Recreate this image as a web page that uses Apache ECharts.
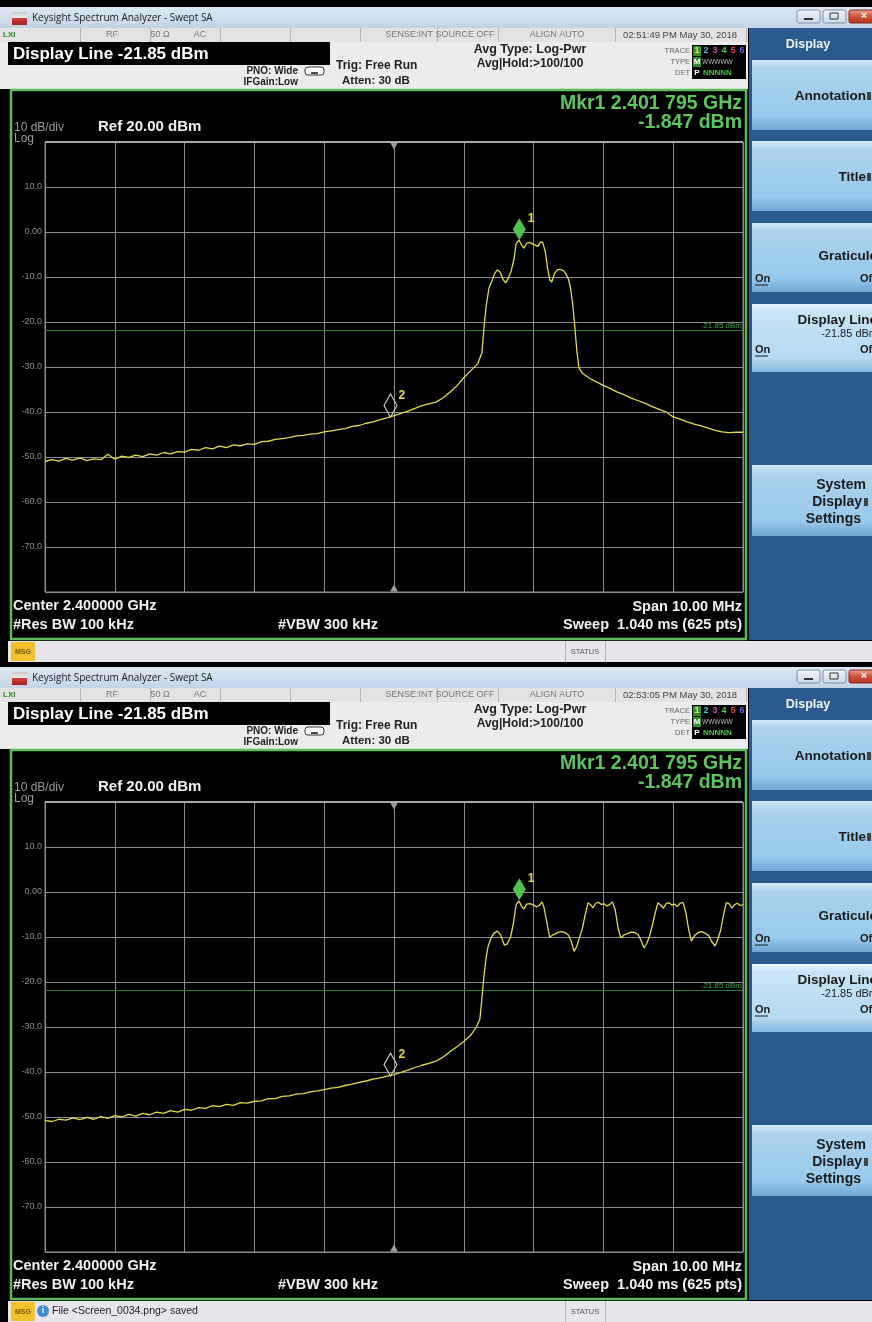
<!DOCTYPE html>
<html><head><meta charset="utf-8">
<script src="https://cdn.jsdelivr.net/npm/echarts@6/dist/echarts.min.js"></script>
<style>html,body{margin:0;padding:0;background:#000;}#c{width:872px;height:1322px;}</style>
</head><body><div id="c"></div>
<script>
// ---------------- DATA ----------------
// frequency offset from center 2.400000 GHz, in MHz (span 10 MHz)
const freqMin = -5, freqMax = 5, freqStep = 1;
// level axis (dBm): ref 20 dBm, 10 dB/div
const levelMin = -80, levelMax = 20, levelStep = 10;
const yTickLabels = {'10':'10.0','0':'0.00','-10':'-10.0','-20':'-20.0','-30':'-30.0','-40':'-40.0','-50':'-50.0','-60':'-60.0','-70':'-70.0'};
const displayLineLevel = -21.85;
const displayLineLabel = '-21.85 dBm';

const trace1Freq = [-5.0,-4.9,-4.8,-4.7,-4.6,-4.5,-4.4,-4.3,-4.2,-4.1,-4.0,-3.9,-3.8,-3.7,-3.6,-3.5,-3.4,-3.3,-3.2,-3.1,-3.0,-2.9,-2.8,-2.7,-2.6,-2.5,-2.4,-2.3,-2.2,-2.1,-2.0,-1.9,-1.8,-1.7,-1.6,-1.5,-1.4,-1.3,-1.2,-1.1,-1.0,-0.9,-0.8,-0.7,-0.6,-0.5,-0.4,-0.3,-0.2,-0.1,0.0,0.1,0.2,0.3,0.4,0.5,0.6,0.7,0.8,0.9,1.0,1.1,1.2,1.26,1.29,1.32,1.36,1.40,1.44,1.48,1.52,1.56,1.60,1.64,1.68,1.72,1.75,1.79,1.83,1.86,1.90,1.94,1.98,2.02,2.06,2.10,2.13,2.17,2.20,2.23,2.26,2.30,2.34,2.38,2.42,2.46,2.50,2.53,2.56,2.59,2.62,2.65,2.70,2.8,2.9,3.0,3.1,3.2,3.3,3.4,3.5,3.6,3.7,3.8,3.9,4.0,4.1,4.2,4.3,4.4,4.5,4.6,4.7,4.8,4.9,5.0];
const trace1Level = [-51.0,-50.6,-50.9,-50.3,-50.7,-50.2,-50.8,-50.4,-50.6,-49.4,-50.5,-49.8,-50.1,-49.6,-49.9,-49.3,-49.6,-49.0,-49.3,-48.8,-48.9,-48.3,-48.5,-47.9,-48.2,-47.6,-47.9,-47.3,-47.5,-47.1,-47.2,-46.6,-46.5,-46.1,-45.9,-45.7,-45.3,-45.2,-44.9,-44.8,-44.4,-44.2,-43.9,-43.7,-43.2,-43.0,-42.5,-42.2,-41.7,-41.3,-40.8,-40.3,-39.8,-39.2,-38.6,-38.2,-37.8,-36.9,-35.6,-34.2,-32.4,-30.8,-29.3,-26.8,-21.0,-16.5,-12.5,-11.0,-9.3,-8.4,-8.9,-10.5,-11.3,-10.2,-8.6,-6.0,-2.6,-1.8,-2.9,-3.6,-2.5,-2.3,-2.6,-2.9,-3.2,-2.2,-2.3,-4.5,-8.0,-10.6,-11.1,-9.2,-8.4,-8.3,-8.5,-9.2,-10.5,-12.5,-16.0,-21.0,-26.5,-30.2,-31.4,-32.5,-33.3,-34.1,-34.8,-35.6,-36.2,-36.9,-37.5,-38.1,-38.8,-39.4,-40.0,-41.1,-41.6,-42.2,-42.7,-43.1,-43.6,-44.1,-44.4,-44.6,-44.5,-44.5];

const trace2Freq = [-5.0,-4.9,-4.8,-4.7,-4.6,-4.5,-4.4,-4.3,-4.2,-4.1,-4.0,-3.9,-3.8,-3.7,-3.6,-3.5,-3.4,-3.3,-3.2,-3.1,-3.0,-2.9,-2.8,-2.7,-2.6,-2.5,-2.4,-2.3,-2.2,-2.1,-2.0,-1.9,-1.8,-1.7,-1.6,-1.5,-1.4,-1.3,-1.2,-1.1,-1.0,-0.9,-0.8,-0.7,-0.6,-0.5,-0.4,-0.3,-0.2,-0.1,0.0,0.1,0.2,0.3,0.4,0.5,0.6,0.7,0.8,0.9,1.0,1.1,1.18,1.23,1.26,1.29,1.32,1.35,1.39,1.43,1.48,1.53,1.58,1.62,1.67,1.71,1.75,1.79,1.83,1.86,1.90,1.95,2.0,2.04,2.08,2.12,2.15,2.19,2.23,2.27,2.31,2.36,2.41,2.46,2.50,2.54,2.58,2.62,2.66,2.70,2.74,2.78,2.82,2.85,2.89,2.93,2.97,3.01,3.05,3.09,3.13,3.17,3.21,3.25,3.30,3.35,3.40,3.45,3.50,3.54,3.58,3.62,3.66,3.70,3.74,3.78,3.82,3.86,3.90,3.94,3.98,4.02,4.06,4.10,4.14,4.18,4.22,4.26,4.31,4.36,4.41,4.46,4.51,4.55,4.60,4.64,4.68,4.72,4.76,4.80,4.84,4.88,4.92,4.96,5.0];
const trace2Level = [-50.8,-51.0,-50.5,-50.7,-50.2,-50.6,-50.1,-50.5,-49.9,-50.3,-49.7,-50.0,-49.4,-49.8,-49.2,-49.5,-48.9,-49.2,-48.6,-48.9,-48.3,-48.5,-47.9,-48.1,-47.5,-47.7,-47.2,-47.4,-46.8,-46.9,-46.5,-46.4,-45.9,-45.9,-45.4,-45.3,-44.9,-44.8,-44.4,-44.2,-43.9,-43.6,-43.4,-43.0,-42.7,-42.3,-42.0,-41.6,-41.3,-40.9,-40.6,-40.1,-39.6,-39.0,-38.5,-38.1,-37.6,-36.7,-35.5,-34.4,-33.2,-31.8,-30.0,-28.3,-23.5,-18.5,-14.5,-12.0,-10.2,-9.2,-8.7,-9.6,-11.8,-11.6,-10.0,-7.0,-2.8,-2.0,-3.2,-3.8,-2.7,-2.6,-2.9,-3.3,-3.0,-2.2,-3.5,-6.8,-10.0,-9.6,-9.3,-8.9,-8.8,-9.1,-9.6,-11.0,-13.2,-12.0,-10.0,-8.0,-5.0,-2.4,-2.9,-3.5,-2.5,-2.3,-2.8,-2.6,-3.1,-2.8,-2.2,-4.0,-8.0,-10.2,-9.5,-9.2,-8.9,-9.0,-9.5,-10.8,-12.4,-11.5,-9.8,-7.5,-4.8,-2.4,-2.9,-3.6,-2.6,-2.4,-2.9,-2.7,-3.2,-2.5,-2.3,-4.5,-8.2,-10.9,-9.6,-9.0,-8.8,-9.2,-9.7,-11.0,-12.0,-10.5,-8.5,-5.2,-2.4,-2.6,-3.6,-2.8,-2.5,-3.0,-2.8];

// markers: [freq MHz, level dBm]
const marker1 = [[1.795, -1.847], [1.795, -1.847]];
const marker2 = [[-0.05, -41.0], [-0.05, -40.8]];
const markerReadout = ['Mkr1 2.401 795 GHz', '-1.847 dBm'];
const timestamps = ['02:51:49 PM May 30, 2018', '02:53:05 PM May 30, 2018'];
const messages = ['', 'File <Screen_0034.png> saved'];

// ---------------- DRAWING ----------------
const FONT = '"Liberation Sans", Arial, sans-serif';
function T(x, y, text, size, opt) {
  opt = opt || {};
  const align = opt.align || 'left';
  return { type: 'text', x: x, y: y, z: opt.z || 20, silent: true,
    style: { text: text, font: (opt.weight || 'normal') + ' ' + size + 'px ' + (opt.family || FONT),
      fill: opt.fill || '#000', textAlign: align, align: align,
      textVerticalAlign: 'middle', verticalAlign: 'middle' } };
}
function R(x, y, w, h, fill, opt) {
  opt = opt || {};
  return { type: 'rect', z: opt.z || 1, silent: true, shape: { x: x, y: y, width: w, height: h, r: opt.r || 0 },
    style: { fill: fill, stroke: opt.stroke || null, lineWidth: opt.lw || 0 } };
}
function L(x1, y1, x2, y2, stroke, lw, z) {
  return { type: 'line', z: z || 2, silent: true, shape: { x1: x1, y1: y1, x2: x2, y2: y2 }, style: { stroke: stroke, lineWidth: lw || 1 } };
}
function grad(stops) {
  return new echarts.graphic.LinearGradient(0, 0, 0, 1, stops.map(function (s) { return { offset: s[0], color: s[1] }; }));
}

function chrome(oy, s) {
  const g = [];
  // title bar
  g.push(R(0, oy + 7, 872, 21, grad([[0, '#dde8f5'], [1, '#c3d3e7']])));
  g.push(R(12, oy + 12, 15, 13, grad([[0, '#c8c8c8'], [0.45, '#efefef'], [0.5, '#d33c3c'], [1, '#a82020']]), { z: 2 }));
  g.push(T(32, oy + 18, 'Keysight Spectrum Analyzer - Swept SA', 10, { family: '"Open Sans", sans-serif', fill: '#1c1c1c' }));
  g.push(R(797, oy + 10, 23, 13, grad([[0, '#f2f6fb'], [1, '#c9d6e6']]), { stroke: '#7f90a6', lw: 1, r: 2, z: 2 }));
  g.push(L(804, oy + 19, 813, oy + 19, '#333', 2, 3));
  g.push(R(823, oy + 10, 23, 13, grad([[0, '#f2f6fb'], [1, '#c9d6e6']]), { stroke: '#7f90a6', lw: 1, r: 2, z: 2 }));
  g.push(R(830, oy + 13, 8, 6, 'transparent', { stroke: '#333', lw: 1, z: 3 }));
  g.push(R(849, oy + 10, 30, 13, grad([[0, '#eba592'], [0.5, '#d2503a'], [1, '#b5311d']]), { stroke: '#7a2a20', lw: 1, r: 2, z: 2 }));
  g.push(T(864, oy + 16, '×', 11, { weight: 'bold', fill: '#fff', align: 'center' }));

  // status row
  g.push(R(0, oy + 28, 748, 14, '#e3e3e3'));
  [80, 150, 220, 290, 360, 437, 498, 615, 746].forEach(function (x) { g.push(L(x + 0.5, oy + 28, x + 0.5, oy + 42, '#b4b4b4', 1, 2)); });
  g.push(T(3, oy + 35, 'LXI', 8, { weight: 'bold', fill: '#2c8a2c' }));
  g.push(T(112, oy + 35, 'RF', 9, { fill: '#777', align: 'center' }));
  g.push(T(160, oy + 35, '50 Ω', 9, { fill: '#777', align: 'center' }));
  g.push(T(200, oy + 35, 'AC', 9, { fill: '#777', align: 'center' }));
  g.push(T(433, oy + 35, 'SENSE:INT', 9, { fill: '#777', align: 'right' }));
  g.push(T(465, oy + 35, 'SOURCE OFF', 9, { fill: '#777', align: 'center' }));
  g.push(T(557, oy + 35, 'ALIGN AUTO', 9, { fill: '#777', align: 'center' }));
  g.push(T(680, oy + 35, timestamps[s], 9.5, { fill: '#444', align: 'center' }));

  // annotation area
  g.push(R(0, oy + 42, 748, 47, '#ececec'));
  g.push(R(8, oy + 42, 322, 23, '#000', { z: 2 }));
  g.push(T(13, oy + 54, 'Display Line -21.85 dBm', 17, { weight: 'bold', fill: '#fff' }));
  g.push(T(298, oy + 71, 'PNO: Wide', 10, { weight: 'bold', fill: '#222', align: 'right' }));
  g.push(T(298, oy + 82, 'IFGain:Low', 10, { weight: 'bold', fill: '#222', align: 'right' }));
  g.push(R(305, oy + 67, 19, 8, '#fff', { stroke: '#333', lw: 1, r: 3, z: 2 }));
  g.push(L(311, oy + 73, 318, oy + 73, '#111', 1.5, 3));
  g.push(T(336, oy + 66, 'Trig: Free Run', 12, { weight: 'bold', fill: '#222' }));
  g.push(T(342, oy + 81, 'Atten: 30 dB', 11.5, { weight: 'bold', fill: '#222' }));
  g.push(T(530, oy + 50, 'Avg Type: Log-Pwr', 12.5, { weight: 'bold', fill: '#222', align: 'center' }));
  g.push(T(530, oy + 64, 'Avg|Hold:>100/100', 12, { weight: 'bold', fill: '#222', align: 'center' }));
  g.push(T(690, oy + 51, 'TRACE', 7.5, { fill: '#666', align: 'right' }));
  g.push(T(690, oy + 62, 'TYPE', 7.5, { fill: '#666', align: 'right' }));
  g.push(T(690, oy + 73, 'DET', 7.5, { fill: '#666', align: 'right' }));
  g.push(R(692, oy + 45, 54, 34, '#000', { z: 2 }));
  g.push(R(693, oy + 46, 8, 10, '#2f8f2f', { z: 3 }));
  g.push(R(693, oy + 57, 8, 10, '#2f8f2f', { z: 3 }));
  const tcol = ['#f0e040', '#35c3d6', '#d84ea6', '#5cc95c', '#e2463f', '#6a5ae0'];
  tcol.forEach(function (c, i) { g.push(T(697 + i * 9, oy + 51, String(i + 1), 9, { weight: 'bold', fill: c, align: 'center' })); });
  g.push(T(697, oy + 62, 'M', 8, { weight: 'bold', fill: '#fff', align: 'center' }));
  g.push(T(702, oy + 62, 'WWWWW', 6.5, { fill: '#bbb' }));
  g.push(T(697, oy + 73, 'P', 8, { weight: 'bold', fill: '#fff', align: 'center' }));
  g.push(T(703, oy + 73, 'NNNNN', 8, { weight: 'bold', fill: '#46c646' }));

  // green frame
  g.push(R(11, oy + 90, 735, 549, '#000', { stroke: '#5dbb5d', lw: 2.5 }));
  g.push(R(45, oy + 141, 698, 2, '#a8a8a8', { z: 8 }));
  g.push(T(14, oy + 128, '10 dB/div', 12, { fill: '#9b9b9b' }));
  g.push(T(14, oy + 139, 'Log', 12, { fill: '#9b9b9b' }));
  g.push(T(98, oy + 127, 'Ref 20.00 dBm', 15, { weight: 'bold', fill: '#f0f0f0' }));
  g.push(T(742, oy + 104, markerReadout[0], 19.5, { weight: 'bold', fill: '#5ec45e', align: 'right' }));
  g.push(T(742, oy + 123, markerReadout[1], 19.5, { weight: 'bold', fill: '#5ec45e', align: 'right' }));
  g.push(T(13, oy + 606, 'Center 2.400000 GHz', 14.5, { weight: 'bold', fill: '#f2f2f2' }));
  g.push(T(13, oy + 625, '#Res BW 100 kHz', 14.5, { weight: 'bold', fill: '#f2f2f2' }));
  g.push(T(278, oy + 625, '#VBW 300 kHz', 14.5, { weight: 'bold', fill: '#f2f2f2' }));
  g.push(T(742, oy + 607, 'Span 10.00 MHz', 14.5, { weight: 'bold', fill: '#f2f2f2', align: 'right' }));
  g.push(T(742, oy + 625, 'Sweep  1.040 ms (625 pts)', 14.5, { weight: 'bold', fill: '#f2f2f2', align: 'right' }));

  // message row
  g.push(R(8, oy + 641, 864, 21, '#e8e5ec'));
  g.push(R(11, oy + 642, 24, 19, '#f2c12e', { z: 2 }));
  g.push(T(23, oy + 652, 'MSG', 7, { weight: 'bold', fill: '#7a5a00', align: 'center' }));
  g.push(L(565.5, oy + 641, 565.5, oy + 662, '#b0b0b0', 1, 2));
  g.push(L(605.5, oy + 641, 605.5, oy + 662, '#b0b0b0', 1, 2));
  g.push(T(585, oy + 652, 'STATUS', 7.5, { fill: '#555', align: 'center' }));
  if (messages[s]) {
    g.push({ type: 'circle', z: 3, silent: true, shape: { cx: 43, cy: oy + 651, r: 6 }, style: { fill: '#3d8ad6' } });
    g.push(T(43, oy + 651, 'i', 9, { weight: 'bold', fill: '#fff', align: 'center' }));
    g.push(T(52, oy + 651, messages[s], 10.5, { fill: '#222' }));
  }

  // softkey sidebar
  g.push(R(749, oy + 28, 123, 612, '#2b5b8e'));
  g.push(T(808, oy + 45, 'Display', 12.5, { weight: 'bold', fill: '#eef4fa', align: 'center' }));
  const btnFill = grad([[0, '#d4e9f8'], [0.12, '#acd3ef'], [0.8, '#98c8ea'], [1, '#6ea6d3']]);
  const selFill = grad([[0, '#e6f3fc'], [0.12, '#c9e4f6'], [0.8, '#b5daf2'], [1, '#82b6dc']]);
  const buttons = [[60, 70, false], [141, 70, false], [223, 69, false], [304, 68, true], [465, 71, false]];
  buttons.forEach(function (b) { g.push(R(752, oy + b[0], 122, b[1], b[2] ? selFill : btnFill, { z: 2 })); });
  const bt = { weight: 'bold', fill: '#1a1a1a', align: 'right', z: 21 };
  g.push(T(866, oy + 96, 'Annotation', 13.5, bt));
  g.push(R(867, oy + 92, 4, 8, '#444', { z: 3 }));
  g.push(T(866, oy + 177, 'Title', 13.5, bt));
  g.push(R(867, oy + 173, 4, 8, '#444', { z: 3 }));
  g.push(T(877, oy + 256, 'Graticule', 13.5, bt));
  g.push(T(755, oy + 279, 'On', 11, { weight: 'bold', fill: '#1a1a1a' }));
  g.push(L(755, oy + 285, 768, oy + 285, '#1a1a1a', 1, 3));
  g.push(T(860, oy + 279, 'Off', 11, { weight: 'bold', fill: '#1a1a1a' }));
  g.push(T(877, oy + 320, 'Display Line', 13.5, bt));
  g.push(T(878, oy + 334, '-21.85 dBm', 11, { fill: '#1a1a1a', align: 'right' }));
  g.push(T(755, oy + 350, 'On', 11, { weight: 'bold', fill: '#1a1a1a' }));
  g.push(L(755, oy + 356, 768, oy + 356, '#1a1a1a', 1, 3));
  g.push(T(860, oy + 350, 'Off', 11, { weight: 'bold', fill: '#1a1a1a' }));
  g.push(T(866, oy + 485, 'System', 14, bt));
  g.push(T(862, oy + 502, 'Display', 14, bt));
  g.push(R(864, oy + 498, 4, 8, '#444', { z: 3 }));
  g.push(T(861, oy + 519, 'Settings', 14, bt));
  return g;
}

const screenTop = [0, 660];
const traces = [
  trace1Freq.map(function (f, i) { return [f, trace1Level[i]]; }),
  trace2Freq.map(function (f, i) { return [f, trace2Level[i]]; })
];

const chart = echarts.init(document.getElementById('c'), null, { renderer: 'canvas', width: 872, height: 1322 });
let graphics = [];
screenTop.forEach(function (oy, s) { graphics = graphics.concat(chrome(oy, s)); });

const axisLineColor = '#8d8d8d';
chart.setOption({
  backgroundColor: '#000',
  animation: false,
  graphic: { elements: graphics },
  grid: screenTop.map(function (oy) {
    return { left: 45, top: oy + 142, width: 698, height: 450, show: true, z: 5, borderColor: axisLineColor, borderWidth: 1, backgroundColor: 'transparent' };
  }),
  xAxis: screenTop.map(function (oy, i) {
    return { type: 'value', gridIndex: i, min: freqMin, max: freqMax, interval: freqStep, z: 5,
      axisLine: { show: false }, axisTick: { show: false }, axisLabel: { show: false },
      splitLine: { show: true, lineStyle: { color: axisLineColor, width: 1 } } };
  }),
  yAxis: screenTop.map(function (oy, i) {
    return { type: 'value', gridIndex: i, min: levelMin, max: levelMax, interval: levelStep, z: 5,
      axisLine: { show: false }, axisTick: { show: false },
      axisLabel: { show: true, margin: 3, color: '#8c8c8c', fontSize: 9, fontFamily: 'Liberation Sans',
        formatter: function (v) { return yTickLabels[String(v)] || ''; } },
      splitLine: { show: true, lineStyle: { color: axisLineColor, width: 1 } } };
  }),
  series: [0, 1].map(function (i) {
    return {
      type: 'line', xAxisIndex: i, yAxisIndex: i, data: traces[i], showSymbol: false, symbol: 'none', z: 10,
      lineStyle: { color: '#e0dc4e', width: 1.3 }, silent: true, animation: false,
      markLine: { silent: true, animation: false, symbol: ['none', 'none'], data: [{ yAxis: displayLineLevel }],
        lineStyle: { color: '#2a7d33', width: 1, type: 'solid' },
        label: { show: true, position: 'insideEndTop', formatter: displayLineLabel, color: '#3da346', fontSize: 8, distance: 1 } },
      markPoint: { silent: true, animation: false, data: [
        { coord: [0, levelMax], symbol: 'triangle', symbolRotate: 180, symbolSize: [8, 7], symbolOffset: [0, 4], itemStyle: { color: '#9a9a9a' }, label: { show: false } },
        { coord: [0, levelMin], symbol: 'triangle', symbolSize: [8, 7], symbolOffset: [0, -4], itemStyle: { color: '#9a9a9a' }, label: { show: false } },
        { coord: marker1[i], symbol: 'diamond', symbolSize: [13, 22], symbolOffset: [0, -11], itemStyle: { color: '#4fc24f' },
          label: { show: true, formatter: '1', position: [15, -6], color: '#e8df4a', fontWeight: 'bold', fontSize: 12 } },
        { coord: marker2[i], symbol: 'diamond', symbolSize: [13, 23], symbolOffset: [0, -11], itemStyle: { color: 'rgba(0,0,0,0)', borderColor: '#d2d2d2', borderWidth: 1.2 },
          label: { show: true, formatter: '2', position: [15, -4], color: '#e8df4a', fontWeight: 'bold', fontSize: 12 } }
      ] }
    };
  })
});
</script></body></html>
